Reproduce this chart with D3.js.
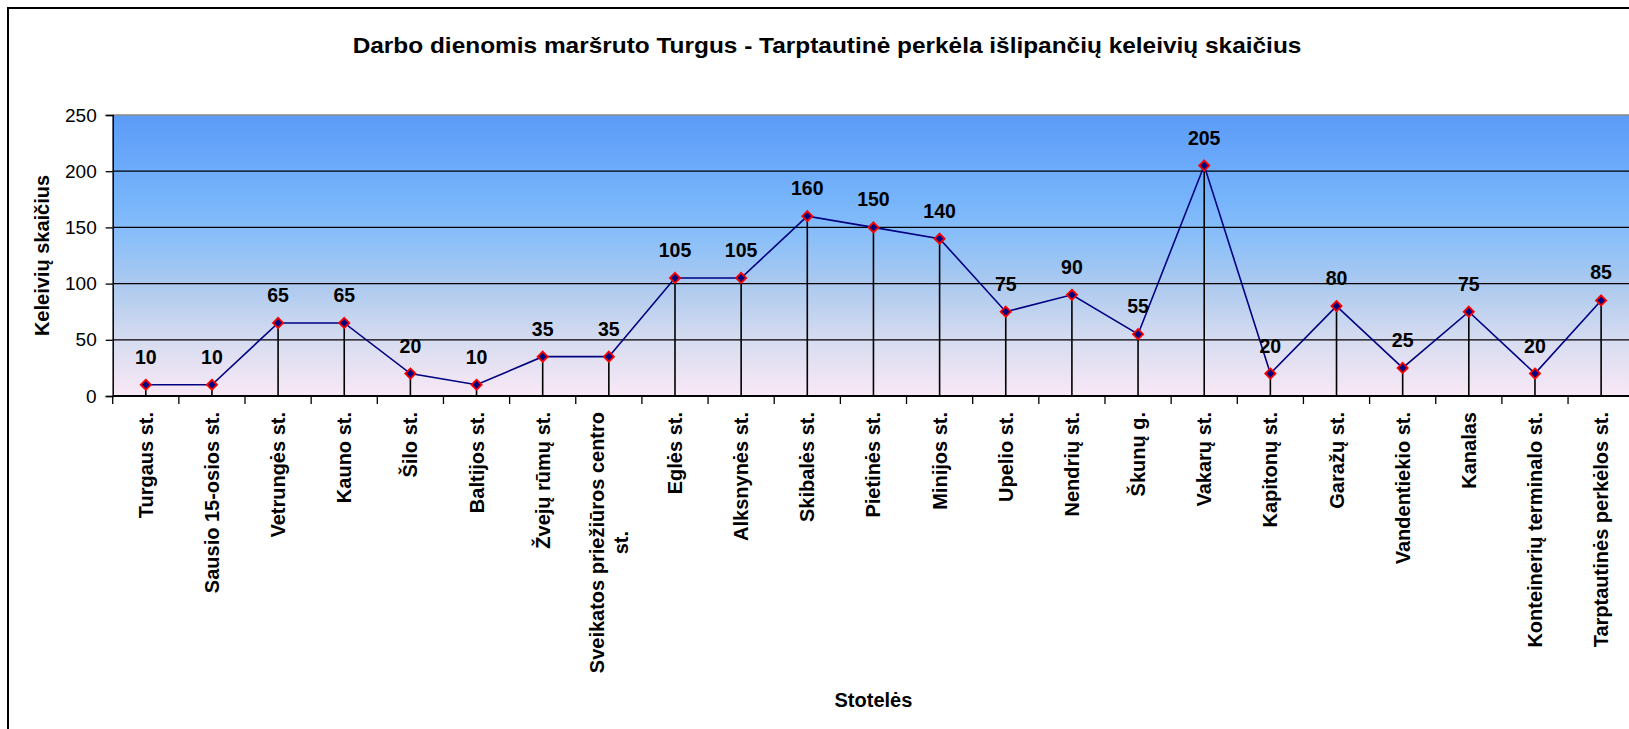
<!DOCTYPE html>
<html>
<head>
  <meta charset="UTF-8">
  <title>Darbo dienomis maršruto Turgus - Tarptautinė perkėla</title>
  <script src="https://d3js.org/d3.v7.min.js"></script>
  <style>
    body {
      margin: 0;
      padding: 0;
      background-color: #ffffff;
      font-family: 'Liberation Sans', Arial, sans-serif;
      overflow: hidden;
    }
    svg text {
      fill: #000;
    }
  </style>
</head>
<body>
  <svg id="chart"></svg>
  <script>
    const stops = ["Turgaus st.", "Sausio 15-osios st.", "Vetrungės st.", "Kauno st.", "Šilo st.",
      "Baltijos st.", "Žvejų rūmų st.", "Sveikatos priežiūros centro st.", "Eglės st.", "Alksnynės st.",
      "Skibalės st.", "Pietinės st.", "Minijos st.", "Upelio st.", "Nendrių st.", "Škunų g.",
      "Vakarų st.", "Kapitonų st.", "Garažų st.", "Vandentiekio st.", "Kanalas",
      "Konteinerių terminalo st.", "Tarptautinės perkėlos st."];
    const passengers = [10, 10, 65, 65, 20, 10, 35, 35, 105, 105, 160, 150, 140, 75, 90, 55,
      205, 20, 80, 25, 75, 20, 85];
    const yTicks = [0, 50, 100, 150, 200, 250];

    const titleText = "Darbo dienomis maršruto Turgus - Tarptautinė perkėla išlipančių keleivių skaičius";
    const yTitle = "Keleivių skaičius";
    const xTitle = "Stotelės";

    const W = 1629, H = 729;
    const pLeft = 112.7, pRight = 1634.2, pTop = 115, pBottom = 396;

    const svg = d3.select("#chart")
      .attr("width", W)
      .attr("height", H);

    // outer chart border (runs off the page on right and bottom)
    svg.append("rect")
      .attr("x", 8).attr("y", 8)
      .attr("width", 1700).attr("height", 800)
      .attr("fill", "#fff")
      .attr("stroke", "#000")
      .attr("stroke-width", 2);

    const x = d3.scaleBand()
      .domain(stops)
      .range([pLeft, pRight]);

    const y = d3.scaleLinear()
      .domain([0, 250])
      .range([pBottom, pTop]);

    // background gradient
    const grad = svg.append("defs").append("linearGradient")
      .attr("id", "bg")
      .attr("x1", 0).attr("y1", 0).attr("x2", 0).attr("y2", 1);
    [[0, "#5b9bf8"], [0.3, "#76b4fb"], [0.45, "#8cc0f8"], [0.6, "#abc9ef"], [0.8, "#d6dcf0"], [1, "#f9e8f6"]]
      .forEach(function(s) {
        grad.append("stop").attr("offset", s[0]).attr("stop-color", s[1]);
      });

    svg.append("rect")
      .attr("x", pLeft).attr("y", pTop)
      .attr("width", pRight - pLeft).attr("height", pBottom - pTop)
      .attr("fill", "url(#bg)");

    // gridlines
    svg.append("g")
      .selectAll("line")
      .data(yTicks.filter(function(d) { return d > 0 && d < 250; }))
      .join("line")
      .attr("x1", pLeft).attr("x2", pRight)
      .attr("y1", function(d) { return y(d); })
      .attr("y2", function(d) { return y(d); })
      .attr("stroke", "#000")
      .attr("stroke-width", 1.3);

    svg.append("line")
      .attr("x1", pLeft).attr("x2", pRight)
      .attr("y1", pTop).attr("y2", pTop)
      .attr("stroke", "#8a8a8a")
      .attr("stroke-width", 1.5);

    // y axis
    const yAxis = svg.append("g")
      .attr("transform", `translate(${pLeft},0)`)
      .call(d3.axisLeft(y).tickValues(yTicks).tickSize(7).tickPadding(9));
    yAxis.select(".domain").attr("stroke", "#000").attr("stroke-width", 1.5);
    yAxis.selectAll(".tick line").attr("stroke", "#000").attr("stroke-width", 1.3);
    yAxis.selectAll("text")
      .style("font-family", "'Liberation Sans', Arial, sans-serif")
      .style("font-size", "19px");

    // x axis (ticks at category boundaries)
    const boundaries = stops.map(function(d) { return x(d); });
    const xAxis = svg.append("g")
      .attr("transform", `translate(0,${pBottom})`);
    xAxis.append("line")
      .attr("x1", pLeft).attr("x2", pRight)
      .attr("stroke", "#000").attr("stroke-width", 1.8);
    xAxis.selectAll(".xt")
      .data(boundaries)
      .join("line")
      .attr("class", "xt")
      .attr("x1", function(d) { return d; })
      .attr("x2", function(d) { return d; })
      .attr("y1", 0).attr("y2", 8)
      .attr("stroke", "#000").attr("stroke-width", 1.3);

    // x labels
    const labelTop = 412;
    stops.forEach(function(name) {
      const cx = x(name) + x.bandwidth() / 2;
      const t = svg.append("text")
        .attr("text-anchor", "end")
        .attr("transform", `translate(${cx},${labelTop}) rotate(-90)`)
        .attr("dy", "0.35em")
        .style("font-size", "20px")
        .style("font-weight", "bold")
        .text(name);
      if (t.node().getComputedTextLength() > 280) {
        const cut = name.lastIndexOf(" ");
        t.text(name.slice(0, cut));
        const len = t.node().getComputedTextLength();
        t.attr("text-anchor", "middle")
          .attr("transform", `translate(${cx - 12},${labelTop + len / 2}) rotate(-90)`);
        svg.append("text")
          .attr("text-anchor", "middle")
          .attr("transform", `translate(${cx + 12},${labelTop + len / 2}) rotate(-90)`)
          .attr("dy", "0.35em")
          .style("font-size", "20px")
          .style("font-weight", "bold")
          .text(name.slice(cut + 1));
      }
    });

    // drop lines
    const cxOf = function(i) { return x(stops[i]) + x.bandwidth() / 2; };
    svg.append("g")
      .selectAll("line")
      .data(passengers)
      .join("line")
      .attr("x1", function(d, i) { return cxOf(i); })
      .attr("x2", function(d, i) { return cxOf(i); })
      .attr("y1", function(d) { return y(d); })
      .attr("y2", pBottom)
      .attr("stroke", "#000")
      .attr("stroke-width", 1.6);

    // series line
    const line = d3.line()
      .x(function(d, i) { return cxOf(i); })
      .y(function(d) { return y(d); });
    svg.append("path")
      .datum(passengers)
      .attr("d", line)
      .attr("fill", "none")
      .attr("stroke", "#000080")
      .attr("stroke-width", 1.6);

    // markers
    svg.append("g")
      .selectAll("path")
      .data(passengers)
      .join("path")
      .attr("d", d3.symbol().type(d3.symbolDiamond2).size(66))
      .attr("transform", function(d, i) { return `translate(${cxOf(i)},${y(d)})`; })
      .attr("fill", "#000080")
      .attr("stroke", "#ff0000")
      .attr("stroke-width", 1.8);

    // data labels
    svg.append("g")
      .selectAll("text")
      .data(passengers)
      .join("text")
      .attr("x", function(d, i) { return cxOf(i); })
      .attr("y", function(d) { return y(d) - 21; })
      .attr("text-anchor", "middle")
      .style("font-size", "19.5px")
      .style("font-weight", "bold")
      .text(function(d) { return d; });

    // title
    svg.append("text")
      .attr("transform", "translate(827,53) scale(1.11,1)")
      .attr("text-anchor", "middle")
      .style("font-size", "22px")
      .style("font-weight", "bold")
      .text(titleText);

    // axis titles
    svg.append("text")
      .attr("transform", `translate(42,${(pTop + pBottom) / 2}) rotate(-90)`)
      .attr("text-anchor", "middle")
      .attr("dy", "0.35em")
      .style("font-size", "20px")
      .style("font-weight", "bold")
      .text(yTitle);

    svg.append("text")
      .attr("x", (pLeft + pRight) / 2)
      .attr("y", 707)
      .attr("text-anchor", "middle")
      .style("font-size", "20px")
      .style("font-weight", "bold")
      .text(xTitle);
  </script>
</body>
</html>
